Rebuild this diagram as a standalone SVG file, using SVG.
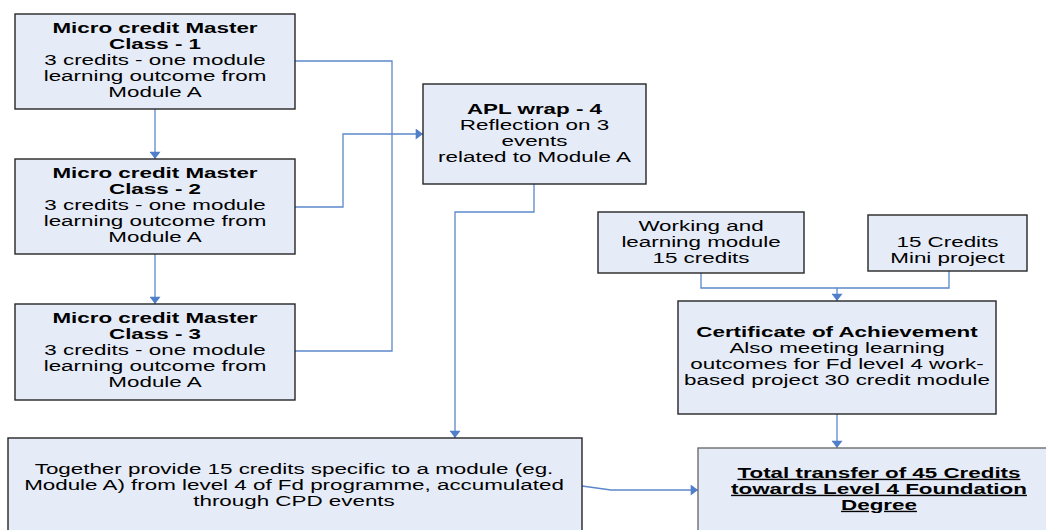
<svg xmlns="http://www.w3.org/2000/svg" width="1046" height="530" viewBox="0 0 1046 530">
<defs>
<marker id="arr" viewBox="0 0 8 12" markerWidth="8" markerHeight="11" refX="8" refY="6" orient="auto" markerUnits="userSpaceOnUse">
<path d="M0,0 L8,6 L0,12 z" fill="#4f7fc8"/>
</marker>
</defs>
<style>
.box{fill:#e6ecf7;stroke:#262626;stroke-width:1.4}
.t{font-family:"Liberation Sans",Arial,sans-serif;font-size:14px;fill:#000;text-anchor:middle}
.b{font-weight:bold}
.u{text-decoration:underline}
.c{fill:none;stroke:#5b88cc;stroke-width:1.3}
</style>
<rect width="1046" height="530" fill="#ffffff"/>
<g id="connectors">
<path class="c" d="M155,109 V159" marker-end="url(#arr)"/>
<path class="c" d="M155,254 V304" marker-end="url(#arr)"/>
<path class="c" d="M295,61 H392 V351 H295"/>
<path class="c" d="M295,207 H343 V134 H423" marker-end="url(#arr)"/>
<path class="c" d="M534,184 V212 H455 V438" marker-end="url(#arr)"/>
<path class="c" d="M701,273 V288 H837"/>
<path class="c" d="M949,271 V288 H837 V301" marker-end="url(#arr)"/>
<path class="c" d="M837,414 V448" marker-end="url(#arr)"/>
<path class="c" d="M582,486 L611,490 H698" marker-end="url(#arr)"/>
</g>
<g id="mc1">
<rect class="box" x="15" y="14" width="280" height="95"/>
<text class="t" transform="translate(155,0) scale(1.6,1)"><tspan class="b" x="0" y="33">Micro credit Master</tspan><tspan class="b" x="0" y="49">Class - 1</tspan><tspan x="0" y="65">3 credits - one module</tspan><tspan x="0" y="81">learning outcome from</tspan><tspan x="0" y="97">Module A</tspan></text>
</g>
<g id="mc2">
<rect class="box" x="15" y="159" width="280" height="95"/>
<text class="t" transform="translate(155,0) scale(1.6,1)"><tspan class="b" x="0" y="178">Micro credit Master</tspan><tspan class="b" x="0" y="194">Class - 2</tspan><tspan x="0" y="210">3 credits - one module</tspan><tspan x="0" y="226">learning outcome from</tspan><tspan x="0" y="242">Module A</tspan></text>
</g>
<g id="mc3">
<rect class="box" x="15" y="304" width="280" height="96"/>
<text class="t" transform="translate(155,0) scale(1.6,1)"><tspan class="b" x="0" y="323">Micro credit Master</tspan><tspan class="b" x="0" y="339">Class - 3</tspan><tspan x="0" y="355">3 credits - one module</tspan><tspan x="0" y="371">learning outcome from</tspan><tspan x="0" y="387">Module A</tspan></text>
</g>
<g id="apl">
<rect class="box" x="423" y="84" width="223" height="100"/>
<text class="t" transform="translate(534.5,0) scale(1.6,1)"><tspan class="b" x="0" y="114">APL wrap - 4</tspan><tspan x="0" y="130">Reflection on 3</tspan><tspan x="0" y="146">events</tspan><tspan x="0" y="162">related to Module A</tspan></text>
</g>
<g id="working">
<rect class="box" x="598" y="212" width="206" height="61"/>
<text class="t" transform="translate(701,0) scale(1.6,1)"><tspan x="0" y="231">Working and</tspan><tspan x="0" y="247">learning module</tspan><tspan x="0" y="263">15 credits</tspan></text>
</g>
<g id="mini">
<rect class="box" x="868" y="215" width="159" height="56"/>
<text class="t" transform="translate(947.5,0) scale(1.6,1)"><tspan x="0" y="247">15 Credits</tspan><tspan x="0" y="263">Mini project</tspan></text>
</g>
<g id="certificate">
<rect class="box" x="678" y="301" width="318" height="113"/>
<text class="t" transform="translate(837,0) scale(1.6,1)"><tspan class="b" x="0" y="337">Certificate of Achievement</tspan><tspan x="0" y="353">Also meeting learning</tspan><tspan x="0" y="369">outcomes for Fd level 4 work-</tspan><tspan x="0" y="385">based project 30 credit module</tspan></text>
</g>
<g id="together">
<rect class="box" x="8" y="438" width="574" height="110"/>
<text class="t" transform="translate(294,0) scale(1.6,1)"><tspan x="0" y="474">Together provide 15 credits specific to a module (eg.</tspan><tspan x="0" y="490">Module A) from level 4 of Fd programme, accumulated</tspan><tspan x="0" y="506">through CPD events</tspan></text>
</g>
<g id="total">
<rect class="box" x="698" y="448" width="362" height="100" style="stroke:#6e6e6e"/>
<text class="t b u" transform="translate(879,0) scale(1.6,1)"><tspan x="0" y="478">Total transfer of 45 Credits</tspan><tspan x="0" y="494">towards Level 4 Foundation</tspan><tspan x="0" y="510">Degree</tspan></text>
</g>
</svg>
